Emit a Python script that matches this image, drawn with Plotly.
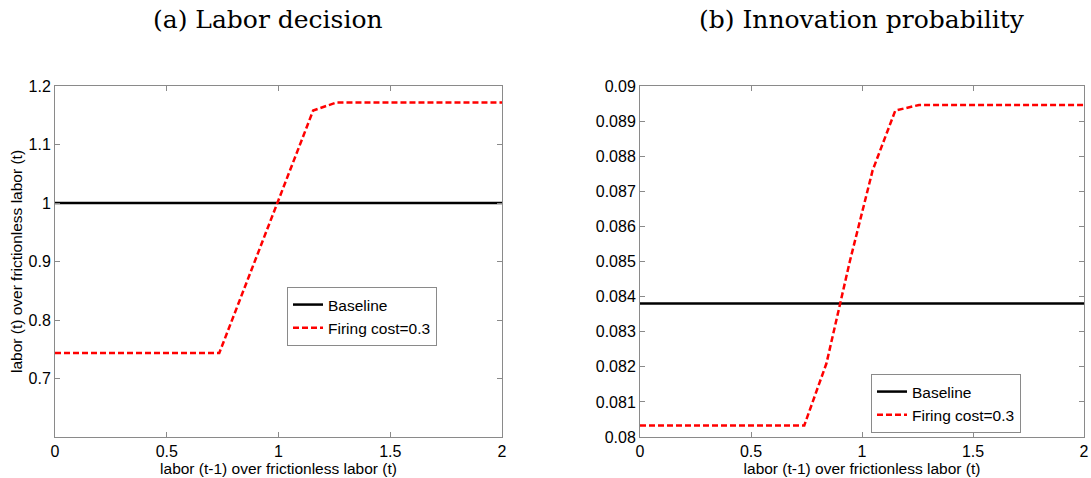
import plotly.graph_objects as go

# ---- data ----
x_grid_base = [0, 2]
labor_baseline = [1.0, 1.0]
innov_baseline = [0.0838, 0.0838]

x_labor_fc = [0, 0.735, 1.155, 1.26, 2]
labor_fc = [0.7435, 0.7435, 1.158, 1.172, 1.172]

x_innov_fc = [0, 0.74, 0.84, 0.945, 1.048, 1.15, 1.257, 2]
innov_fc = [0.08033, 0.08033, 0.0821, 0.0850, 0.0876, 0.0893, 0.08946, 0.08946]

titles = ["(a) Labor decision", "(b) Innovation probability"]
x_title = "labor (t-1) over frictionless labor (t)"
y_title_left = "labor (t) over frictionless labor (t)"
x_ticks = [0, 0.5, 1, 1.5, 2]
x_ticklabels = ["0", "0.5", "1", "1.5", "2"]
y_ticks_left = [0.7, 0.8, 0.9, 1.0, 1.1, 1.2]
y_ticklabels_left = ["0.7", "0.8", "0.9", "1", "1.1", "1.2"]
y_ticks_right = [0.080, 0.081, 0.082, 0.083, 0.084, 0.085, 0.086, 0.087, 0.088, 0.089, 0.090]
y_ticklabels_right = ["0.08", "0.081", "0.082", "0.083", "0.084", "0.085",
                      "0.086", "0.087", "0.088", "0.089", "0.09"]

W, H = 1091, 478
def px(x):
    return x / W
def py(y):
    return 1 - y / H

SANS = "Liberation Sans, Arial"
fig = go.Figure()

fig.add_trace(go.Scatter(x=x_grid_base, y=labor_baseline, mode="lines", name="Baseline",
                         line=dict(color="black", width=2.5), xaxis="x", yaxis="y", legend="legend"))
fig.add_trace(go.Scatter(x=x_labor_fc, y=labor_fc, mode="lines", name="Firing cost=0.3",
                         line=dict(color="#ff0000", width=2.5, dash="6px,3px"), xaxis="x", yaxis="y", legend="legend"))
fig.add_trace(go.Scatter(x=x_grid_base, y=innov_baseline, mode="lines", name="Baseline",
                         line=dict(color="black", width=2.5), xaxis="x2", yaxis="y2", legend="legend2"))
fig.add_trace(go.Scatter(x=x_innov_fc, y=innov_fc, mode="lines", name="Firing cost=0.3",
                         line=dict(color="#ff0000", width=2.5, dash="6px,3px"), xaxis="x2", yaxis="y2", legend="legend2"))

axis_common = dict(showgrid=False, zeroline=False, showline=True, linecolor="#8a8a8a", linewidth=1,
                   mirror="ticks", ticks="inside", ticklen=5, tickcolor="#8a8a8a", automargin=False,
                   tickfont=dict(family=SANS, size=16, color="black"))
title_font = dict(family=SANS, size=15.5, color="black")

ydom = [py(437), py(86)]
fig.update_layout(
    width=W, height=H,
    margin=dict(l=0, r=0, t=0, b=0),
    paper_bgcolor="white", plot_bgcolor="white",
    xaxis=dict(domain=[px(55), px(502)], range=[0, 2], tickvals=x_ticks, ticktext=x_ticklabels,
               anchor="y", title=dict(text=x_title, font=title_font, standoff=0), **axis_common),
    yaxis=dict(domain=ydom, range=[0.6, 1.2], tickvals=y_ticks_left, ticktext=y_ticklabels_left,
               anchor="x", title=dict(text=y_title_left, font=title_font, standoff=2), **axis_common),
    xaxis2=dict(domain=[px(640), px(1084)], range=[0, 2], tickvals=x_ticks, ticktext=x_ticklabels,
                anchor="y2", title=dict(text=x_title, font=title_font, standoff=0), **axis_common),
    yaxis2=dict(domain=ydom, range=[0.08, 0.09], tickvals=y_ticks_right, ticktext=y_ticklabels_right,
                anchor="x2", **axis_common),
    legend=dict(x=px(287), y=py(287), xanchor="left", yanchor="top",
                bgcolor="white", bordercolor="#8a8a8a", borderwidth=1,
                font=dict(family=SANS, size=15.5, color="black"),
                tracegroupgap=0, itemwidth=30),
    legend2=dict(x=px(871), y=py(374), xanchor="left", yanchor="top",
                 bgcolor="white", bordercolor="#8a8a8a", borderwidth=1,
                 font=dict(family=SANS, size=15.5, color="black"),
                 tracegroupgap=0, itemwidth=30),
    showlegend=True,
)

fig.add_annotation(text=titles[0], x=px(268), y=py(19), xref="paper", yref="paper",
                   showarrow=False, xanchor="center", yanchor="middle",
                   font=dict(family="DejaVu Serif, Liberation Serif", size=25, color="black"))
fig.add_annotation(text=titles[1], x=px(862), y=py(19), xref="paper", yref="paper",
                   showarrow=False, xanchor="center", yanchor="middle",
                   font=dict(family="DejaVu Serif, Liberation Serif", size=25, color="black"))

fig.write_html("out.html", config={"displayModeBar": False},
               post_script="document.body.style.margin='0';")
